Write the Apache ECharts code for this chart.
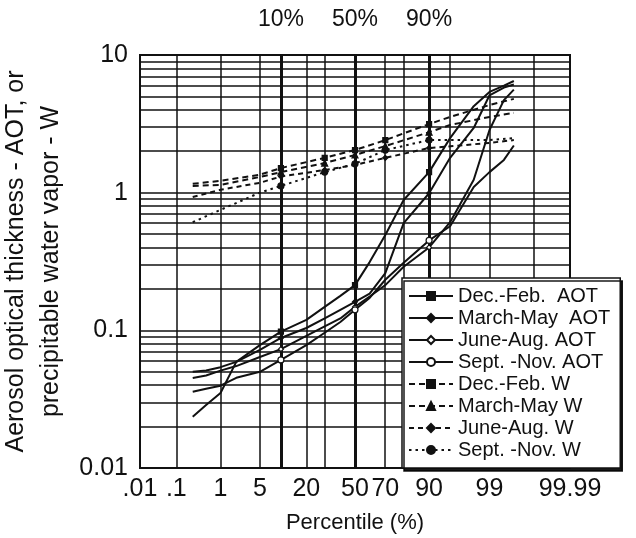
<!DOCTYPE html>
<html><head><meta charset="utf-8">
<script src="https://cdn.jsdelivr.net/npm/echarts@6/dist/echarts.min.js"></script>
<style>html,body{margin:0;padding:0;background:#fff}#c{width:636px;height:538px}</style>
</head><body><div id="c"></div>
<script>
// ---- data (percentile in %, value) ----
const aotPct = [0.25, 0.5, 1, 2, 5, 10, 20, 30, 40, 50, 60, 70, 80, 90, 95, 98, 99, 99.5, 99.7];
const aotDJF = [0.0236, 0.0287, 0.0351, 0.059, 0.078, 0.098, 0.119, 0.148, 0.178, 0.213, 0.313, 0.493, 0.885, 1.41, 2.49, 4.25, 5.39, 6.0, 6.47];
const aotMAM = [0.050, 0.051, 0.054, 0.059, 0.072, 0.088, 0.104, 0.122, 0.141, 0.161, 0.185, 0.26, 0.60, 0.99, 1.79, 2.95, 5.1, 5.8, 6.1];
const aotJJA = [0.045, 0.047, 0.051, 0.055, 0.064, 0.073, 0.091, 0.107, 0.122, 0.148, 0.176, 0.213, 0.29, 0.40, 0.61, 1.24, 2.85, 4.7, 5.6];
const aotSON = [0.0358, 0.0376, 0.0396, 0.0452, 0.050, 0.061, 0.078, 0.096, 0.115, 0.141, 0.172, 0.233, 0.31, 0.45, 0.57, 1.1, 1.41, 1.73, 2.2];
const wPct = [0.25, 1, 5, 10, 30, 50, 70, 90, 95, 99, 99.7];
const wDJF = [1.16, 1.22, 1.35, 1.51, 1.79, 2.04, 2.41, 3.15, 3.55, 4.33, 4.8];
const wMAM = [1.12, 1.14, 1.30, 1.41, 1.64, 1.88, 2.18, 2.75, 3.1, 3.55, 3.8];
const wJJA = [0.93, 1.05, 1.18, 1.31, 1.46, 1.59, 1.79, 2.11, 2.17, 2.30, 2.41];
const wSON = [0.61, 0.75, 1.0, 1.12, 1.41, 1.62, 2.04, 2.41, 2.41, 2.41, 2.49];
const seriesNames = ['Dec.-Feb.  AOT', 'March-May  AOT', 'June-Aug. AOT', 'Sept. -Nov. AOT',
                     'Dec.-Feb. W', 'March-May W', 'June-Aug. W', 'Sept. -Nov. W'];
// ---- axis ticks ----
const xTickPct = ['.01', '.1', '1', '5', '20', '50', '70', '90', '99', '99.99'];
const xGridPct = [0.1, 1, 5, 10, 20, 30, 50, 70, 80, 90, 95, 99, 99.9];
const xBoldPct = [10, 50, 90];
const topLabels = ['10%', '50%', '90%'];
const yTicks = [0.01, 0.1, 1, 10];
const yMinorGrid = [0.02,0.03,0.04,0.05,0.06,0.07,0.08,0.09,0.1,0.2,0.3,0.4,0.5,0.6,0.7,0.8,0.9,1,2,3,4,5,6,7,8,9];
const aotMarkPct = [10, 50, 90];
const wMarkPct = [10, 30, 50, 70, 90];

function probit(p){
  const a=[-3.969683028665376e+01,2.209460984245205e+02,-2.759285104469687e+02,1.383577518672690e+02,-3.066479806614716e+01,2.506628277459239e+00];
  const b=[-5.447609879822406e+01,1.615858368580409e+02,-1.556989798598866e+02,6.680131188771972e+01,-1.328068155288572e+01];
  const c=[-7.784894002430293e-03,-3.223964580411365e-01,-2.400758277161838e+00,-2.549732539343734e+00,4.374664141464968e+00,2.938163982698783e+00];
  const d=[7.784695709041462e-03,3.224671290700398e-01,2.445134137142996e+00,3.754408661907416e+00];
  const pl=0.02425, ph=1-pl; let q,r;
  if(p<pl){q=Math.sqrt(-2*Math.log(p));return (((((c[0]*q+c[1])*q+c[2])*q+c[3])*q+c[4])*q+c[5])/((((d[0]*q+d[1])*q+d[2])*q+d[3])*q+1);}
  if(p<=ph){q=p-0.5;r=q*q;return (((((a[0]*r+a[1])*r+a[2])*r+a[3])*r+a[4])*r+a[5])*q/(((((b[0]*r+b[1])*r+b[2])*r+b[3])*r+b[4])*r+1);}
  q=Math.sqrt(-2*Math.log(1-p));return -(((((c[0]*q+c[1])*q+c[2])*q+c[3])*q+c[4])*q+c[5])/((((d[0]*q+d[1])*q+d[2])*q+d[3])*q+1);
}
const zOf = pc => probit(pc/100);
const xMin = zOf(0.01), xMax = zOf(99.99);
const xTickZ = xTickPct.map(s => zOf(parseFloat(s)));
const topZ = xBoldPct.map(zOf);

function labelFor(v, zs, labels){
  let best=0, bd=1e9;
  zs.forEach((z,i)=>{const d=Math.abs(z-v); if(d<bd){bd=d;best=i;}});
  return labels[best];
}

const ink = '#111';
const FONT = 'Liberation Sans, Arial, Helvetica, sans-serif';

function mkSeries(name, pct, vals, opts){
  const marks = opts.marks;
  return {
    name, type:'line', z:5,
    data: pct.map((p,i)=>[zOf(p), vals[i]]),
    symbol: opts.symbol,
    symbolSize: (v, params) => marks.indexOf(pct[params.dataIndex]) >= 0 ? opts.size : 0,
    showSymbol: true,
    lineStyle: {color: ink, width: opts.width || 2, type: opts.type || 'solid'},
    itemStyle: {color: opts.fill || ink, borderColor: ink, borderWidth: 1.2},
    emphasis: {disabled: true},
    animation: false
  };
}

const series = [
  mkSeries(seriesNames[0], aotPct, aotDJF, {symbol:'rect', size:5, marks:aotMarkPct}),
  mkSeries(seriesNames[1], aotPct, aotMAM, {symbol:'diamond', size:5, marks:aotMarkPct}),
  mkSeries(seriesNames[2], aotPct, aotJJA, {symbol:'diamond', size:5, fill:'#fff', marks:aotMarkPct}),
  mkSeries(seriesNames[3], aotPct, aotSON, {symbol:'circle', size:6, fill:'#fff', marks:aotMarkPct}),
  mkSeries(seriesNames[4], wPct, wDJF, {symbol:'rect', size:5, type:[6,4], marks:wMarkPct}),
  mkSeries(seriesNames[5], wPct, wMAM, {symbol:'triangle', size:6, type:[6,4], marks:wMarkPct}),
  mkSeries(seriesNames[6], wPct, wJJA, {symbol:'diamond', size:5, type:[5,4], marks:wMarkPct}),
  mkSeries(seriesNames[7], wPct, wSON, {symbol:'circle', size:6, type:[2.5,4], marks:wMarkPct})
];

// grid lines via markLine on a helper series (not in legend)
series.unshift({
  name:'__grid', type:'line', data:[], z:1, silent:true, animation:false,
  markLine:{
    silent:true, symbol:['none','none'], label:{show:false}, animation:false,
    data: [
      ...xGridPct.filter(p=>xBoldPct.indexOf(p)<0).map(p=>({xAxis: zOf(p), lineStyle:{color:ink, width:1.5, type:'solid'}})),
      ...xBoldPct.map(p=>({xAxis: zOf(p), lineStyle:{color:ink, width:3, type:'solid'}})),
      ...yMinorGrid.map(v=>({yAxis: v, lineStyle:{color:ink, width:1.5, type:'solid'}}))
    ]
  }
});

const chart = echarts.init(document.getElementById('c'), null, {renderer:'canvas'});
chart.setOption({
  backgroundColor:'#fff',
  animation:false,
  textStyle:{fontFamily:FONT, color:ink},
  grid:{left:140, right:66, top:55, bottom:70, show:true, borderColor:ink, borderWidth:2, backgroundColor:'transparent', containLabel:false, outerBoundsMode:'none'},
  legend:{
    data: seriesNames, z:20, zlevel:0,
    orient:'vertical', left:402, top:278,
    backgroundColor:'#fff', borderColor:ink, borderWidth:1.5,
    shadowColor:'rgba(0,0,0,0.9)', shadowOffsetX:2, shadowOffsetY:3, shadowBlur:0,
    padding:[8,10,8,6], itemGap:2, itemWidth:44, itemHeight:10,
    textStyle:{fontSize:20, fontFamily:FONT, color:ink, lineHeight:18},
    selectedMode:false
  },
  xAxis:[{
    type:'value', min:xMin, max:xMax,
    axisLine:{show:true, lineStyle:{color:ink, width:2}},
    axisTick:{show:false},
    splitLine:{show:false},
    axisLabel:{customValues:xTickZ, formatter:v=>labelFor(v, xTickZ, xTickPct), fontSize:25, color:ink, margin:9, fontFamily:FONT},
    name:'Percentile (%)', nameLocation:'middle', nameGap:44,
    nameTextStyle:{fontSize:22, color:ink, fontFamily:FONT}
  },{
    type:'value', position:'top', min:xMin, max:xMax,
    axisLine:{show:false}, axisTick:{show:false}, splitLine:{show:false},
    axisLabel:{customValues:topZ, formatter:v=>labelFor(v, topZ, topLabels), fontSize:23, color:ink, margin:24, fontFamily:FONT}
  }],
  yAxis:{
    type:'log', logBase:10, min:0.01, max:10,
    axisLine:{show:true, lineStyle:{color:ink, width:2}},
    axisTick:{show:false}, splitLine:{show:false}, minorSplitLine:{show:false},
    axisLabel:{customValues:yTicks, formatter:v=>{const m={0.01:'0.01',0.1:'0.1',1:'1',10:'10'};return m[v]!==undefined?m[v]:String(v);}, fontSize:25, color:ink, margin:12, fontFamily:FONT},
    name:'Aerosol optical thickness - AOT, or\nprecipitable water vapor - W',
    nameLocation:'middle', nameRotate:90, nameGap:56,
    nameTextStyle:{fontSize:25, color:ink, lineHeight:35, fontFamily:FONT, align:'center'}
  },
  series
});
</script></body></html>
